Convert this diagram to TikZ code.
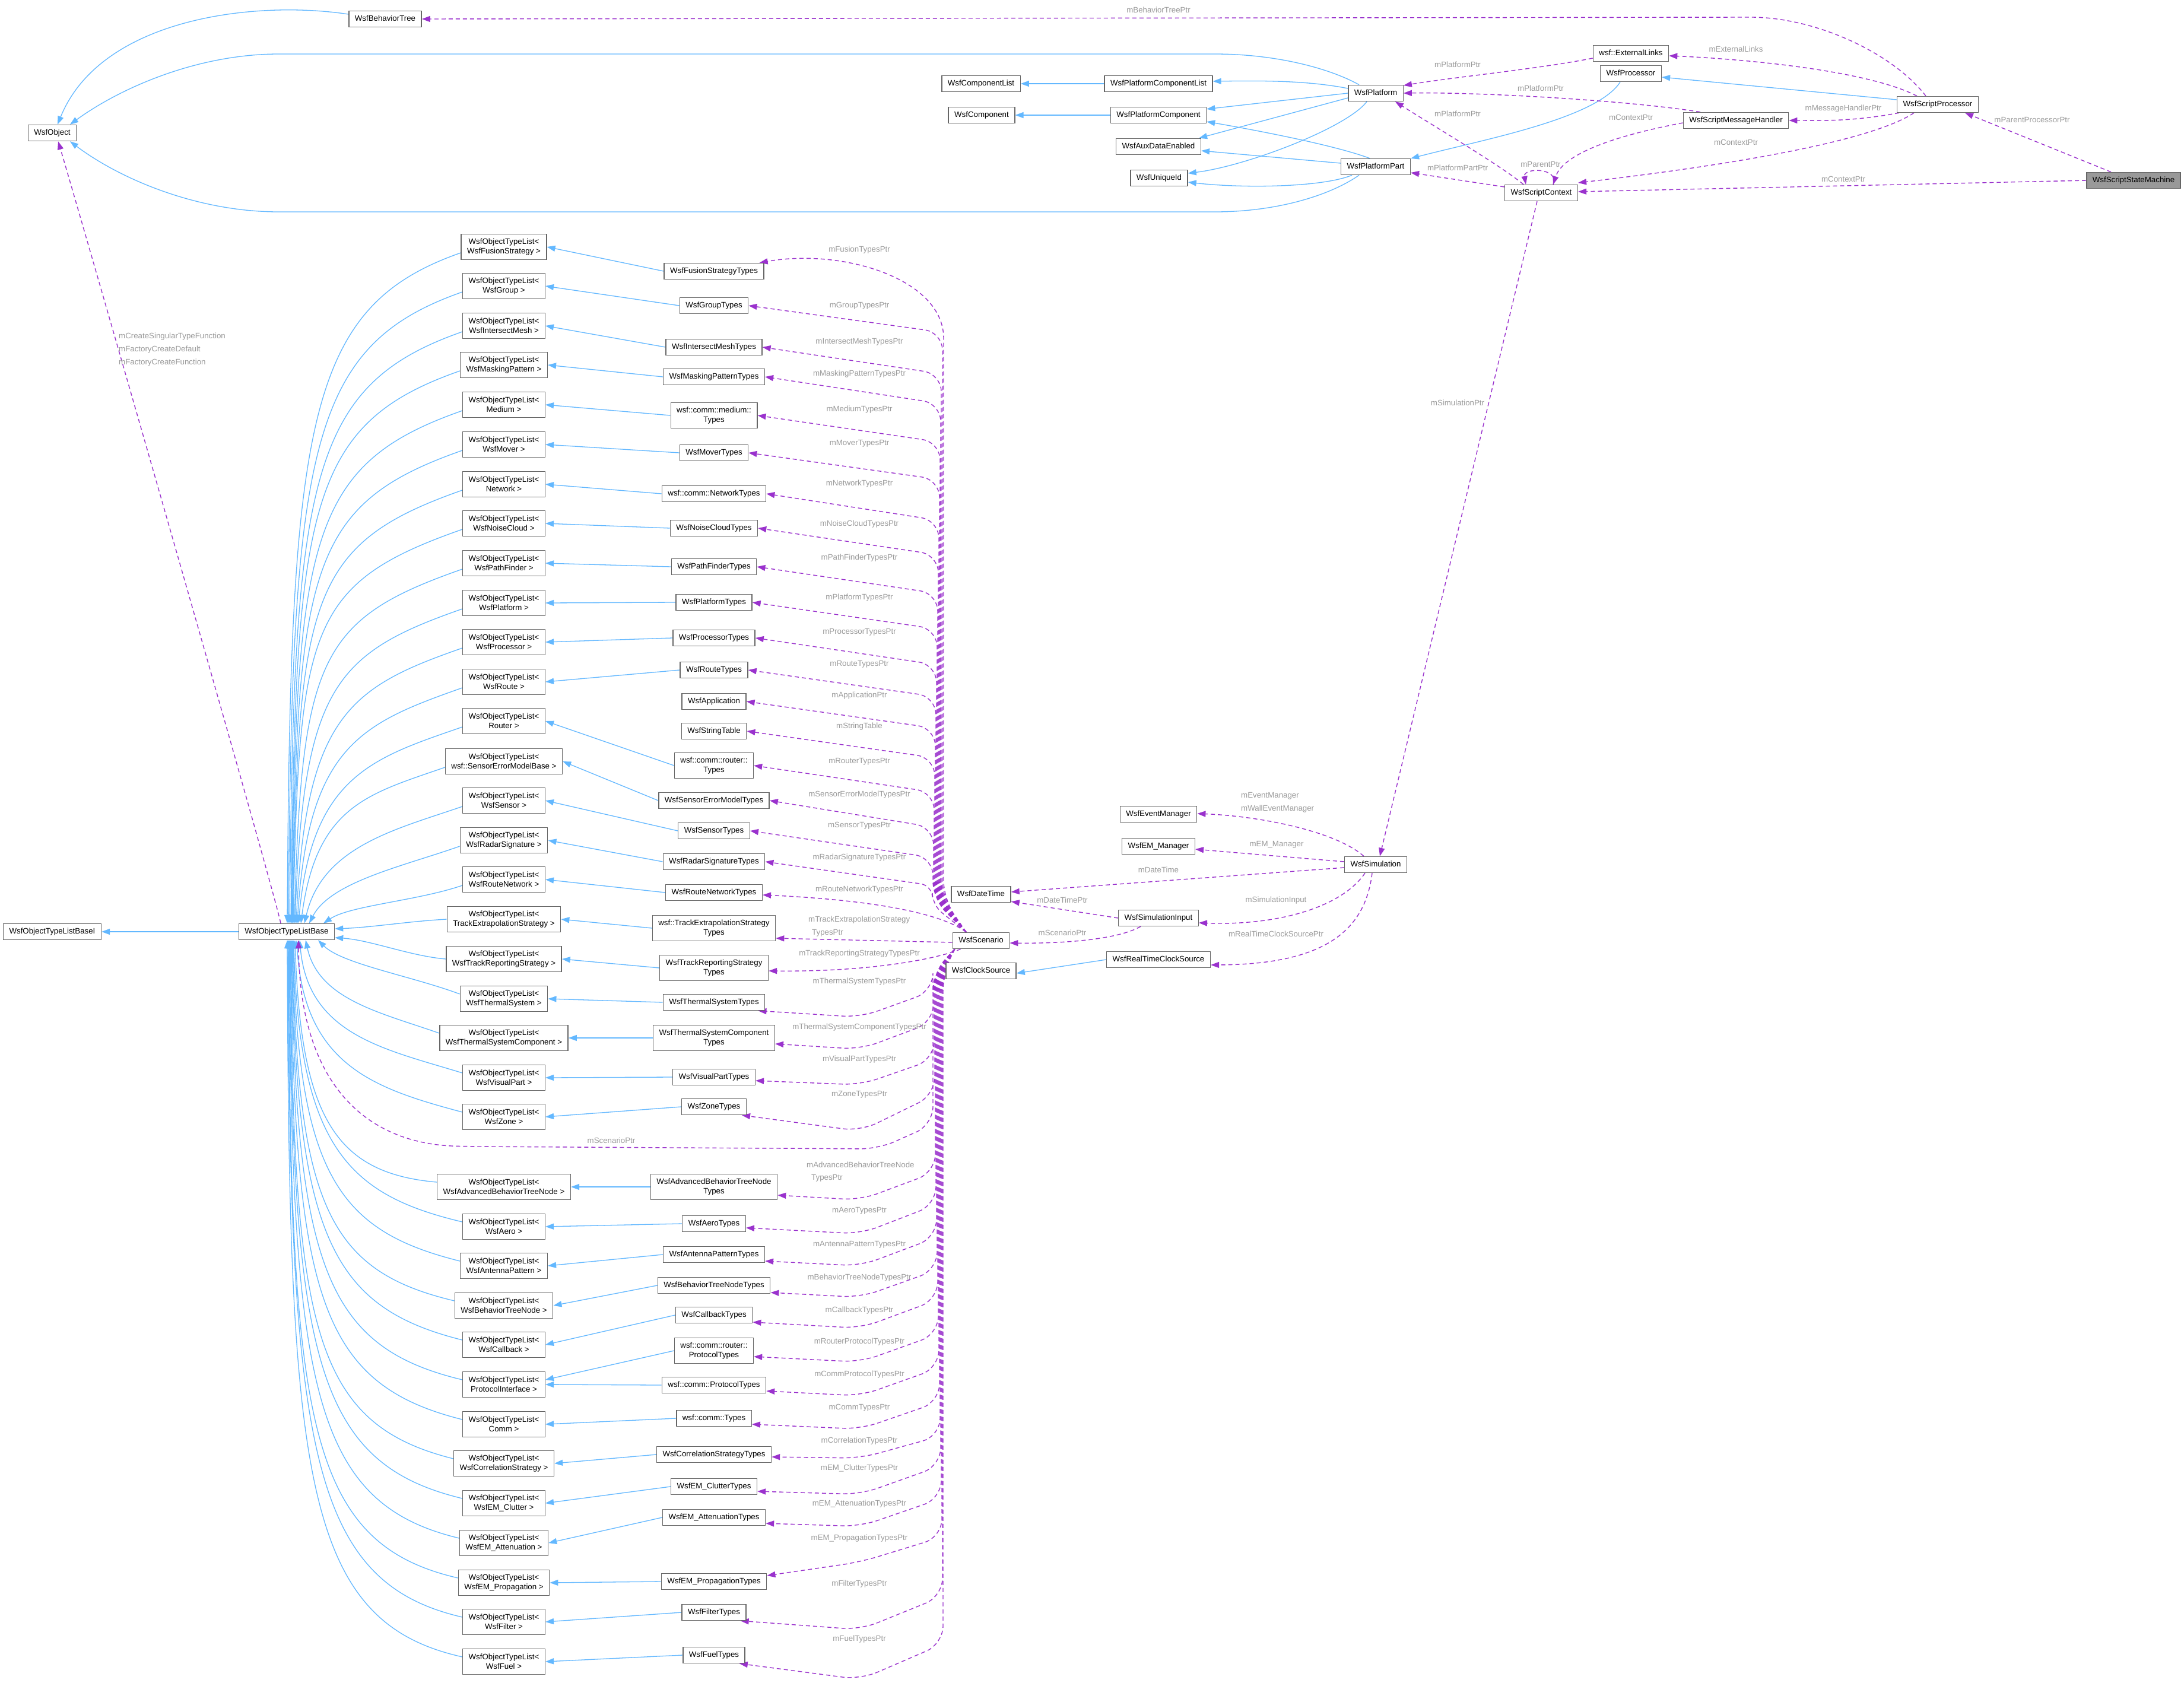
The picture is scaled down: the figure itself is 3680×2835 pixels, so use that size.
\documentclass[tikz,border=0pt]{standalone}
\usepackage{fontspec}
\setmainfont{Liberation Sans}
\usetikzlibrary{arrows.meta}
\definecolor{boxc}{HTML}{666666}
\definecolor{inhc}{HTML}{63B8FF}
\definecolor{depc}{HTML}{9A32CD}
\definecolor{lblc}{HTML}{9A9A9A}
\definecolor{ssmc}{HTML}{999999}
\pgfdeclarelayer{bg}
\pgfsetlayers{bg,main}
\begin{document}
\begin{tikzpicture}[x=1pt,y=-1pt,
  box/.style={draw=boxc, line width=1.4pt, fill=white, inner xsep=10pt, inner ysep=0pt, minimum height=27pt, text height=10pt, text depth=2.8pt, font=\fontsize{13.3}{16}\selectfont},
  box2/.style={draw=boxc, line width=1.4pt, fill=white, inner xsep=10pt, inner ysep=0pt, minimum height=43pt, align=center, font=\fontsize{13.3}{16}\selectfont},
  lbl/.style={text=lblc, inner sep=0pt, font=\fontsize{13.3}{16}\selectfont},
  inh/.style={draw=inhc, line width=1.3pt, -{Triangle[length=14pt,width=10pt]}},
  dep/.style={draw=depc, line width=1.4pt, dash pattern=on 7pt off 5pt, -{Triangle[length=14pt,width=10pt]}}]
\useasboundingbox (0,0) rectangle (3680,2835);
\begin{pgfonlayer}{bg}
\fill[white] (0,0) rectangle (3680,2835);
\end{pgfonlayer}

% ---------- top nodes ----------
\node[box] (obj) at (88,224) {WsfObject};
\node[box] (bt) at (649,32) {WsfBehaviorTree};
\node[box] (cl) at (1653,141) {WsfComponentList};
\node[box] (pcl) at (1952,141) {WsfPlatformComponentList};
\node[box] (plat) at (2318,157) {WsfPlatform};
\node[box] (comp) at (1654,194) {WsfComponent};
\node[box] (pc) at (1952,194) {WsfPlatformComponent};
\node[box] (aux) at (1952,247) {WsfAuxDataEnabled};
\node[box] (uid) at (1953,300) {WsfUniqueId};
\node[box] (pp) at (2318,281) {WsfPlatformPart};
\node[box] (el) at (2748,90) {wsf::ExternalLinks};
\node[box] (proc) at (2748,124) {WsfProcessor};
\node[box] (sp) at (3265,176) {WsfScriptProcessor};
\node[box] (smh) at (2925,203) {WsfScriptMessageHandler};
\node[box] (sc) at (2597,325) {WsfScriptContext};
\node[box, fill=ssmc] (ssm) at (3595,304) {WsfScriptStateMachine};

% ---------- middle nodes ----------
\node[box] (sim) at (2318,1457) {WsfSimulation};
\node[box] (evm) at (1952,1372) {WsfEventManager};
\node[box] (emm) at (1952,1426) {WsfEM\_Manager};
\node[box] (dt) at (1653,1507) {WsfDateTime};
\node[box] (si) at (1952,1547) {WsfSimulationInput};
\node[box] (scen) at (1653,1585) {WsfScenario};
\node[box] (cs) at (1653,1636) {WsfClockSource};
\node[box] (rtcs) at (1952,1617) {WsfRealTimeClockSource};
\node[box] (base) at (483,1570) {WsfObjectTypeListBase};
\node[box] (basei) at (88,1570) {WsfObjectTypeListBaseI};

% ---------- type list templates ----------
\foreach \nm/\yy/\txt in {tFus/416/WsfFusionStrategy, tGrp/482/WsfGroup, tIM/549/WsfIntersectMesh,
  tMP/615/WsfMaskingPattern, tMed/682/Medium, tMov/749/WsfMover, tNet/816/Network,
  tNC/882/WsfNoiseCloud, tPF/949/WsfPathFinder, tPlat/1016/WsfPlatform, tProc/1082/WsfProcessor,
  tRoute/1149/WsfRoute, tRouter/1215/Router, tSEM/1283/wsf::SensorErrorModelBase,
  tSens/1349/WsfSensor, tRadar/1416/WsfRadarSignature, tRN/1482/WsfRouteNetwork,
  tTE/1549/TrackExtrapolationStrategy, tTR/1616/WsfTrackReportingStrategy,
  tTS/1683/WsfThermalSystem, tTSC/1749/WsfThermalSystemComponent, tVP/1816/WsfVisualPart,
  tZone/1882/WsfZone, tABT/2000/WsfAdvancedBehaviorTreeNode, tAero/2067/WsfAero,
  tAnt/2133/WsfAntennaPattern, tBTN/2200/WsfBehaviorTreeNode, tCb/2266/WsfCallback,
  tPI/2333/ProtocolInterface, tComm/2400/Comm, tCorr/2466/WsfCorrelationStrategy,
  tEMC/2533/WsfEM\_Clutter, tEMA/2600/WsfEM\_Attenuation, tEMP/2667/WsfEM\_Propagation,
  tFilter/2733/WsfFilter, tFuel/2800/WsfFuel}
  \node[box2] (\nm) at (849,\yy) {WsfObjectTypeList<\\\txt{} >};

% ---------- types ----------
\foreach \nm/\yy/\txt in {fus/457/WsfFusionStrategyTypes, grp/515/WsfGroupTypes,
  im/585/WsfIntersectMeshTypes, mp/635/WsfMaskingPatternTypes, mov/763/WsfMoverTypes,
  net/832/wsf::comm::NetworkTypes, nc/890/WsfNoiseCloudTypes, pf/955/WsfPathFinderTypes,
  platy/1015/WsfPlatformTypes, procy/1075/WsfProcessorTypes, routey/1129/WsfRouteTypes,
  app/1182/WsfApplication, st/1232/WsfStringTable, sem/1349/WsfSensorErrorModelTypes,
  sens/1400/WsfSensorTypes, rad/1452/WsfRadarSignatureTypes, rn/1504/WsfRouteNetworkTypes,
  ts/1689/WsfThermalSystemTypes, vp/1815/WsfVisualPartTypes, zone/1865/WsfZoneTypes,
  aero/2062/WsfAeroTypes, ant/2114/WsfAntennaPatternTypes, btn/2166/WsfBehaviorTreeNodeTypes,
  cb/2216/WsfCallbackTypes, cp/2334/wsf::comm::ProtocolTypes, comm/2390/wsf::comm::Types,
  corr/2451/WsfCorrelationStrategyTypes, emc/2505/WsfEM\_ClutterTypes,
  ema/2557/WsfEM\_AttenuationTypes, emp/2665/WsfEM\_PropagationTypes,
  fil/2717/WsfFilterTypes, fuel/2789/WsfFuelTypes}
  \node[box] (\nm) at (1203,\yy) {\txt};
\node[box2] (med) at (1203,700) {wsf::comm::medium::\\Types};
\node[box2] (routery) at (1203,1290) {wsf::comm::router::\\Types};
\node[box2] (te) at (1203,1564) {wsf::TrackExtrapolationStrategy\\Types};
\node[box2] (tr) at (1203,1631) {WsfTrackReportingStrategy\\Types};
\node[box2] (tsc) at (1203,1749) {WsfThermalSystemComponent\\Types};
\node[box2] (abt) at (1203,2000) {WsfAdvancedBehaviorTreeNode\\Types};
\node[box2] (rp) at (1203,2276) {wsf::comm::router::\\ProtocolTypes};

% ---------- labels ----------
\node[lbl] (l1) at (1952,17) {mBehaviorTreePtr};
\node[lbl] (l2) at (2925,83) {mExternalLinks};
\node[lbl] (l3) at (2456,109) {mPlatformPtr};
\node[lbl] (l4) at (2596,149) {mPlatformPtr};
\node[lbl] (l5) at (2456,192) {mPlatformPtr};
\node[lbl] (l6) at (2456,283) {mPlatformPartPtr};
\node[lbl] (l7) at (2596,277) {mParentPtr};
\node[lbl] (l8) at (2748,198) {mContextPtr};
\node[lbl] (l9) at (3106,183) {mMessageHandlerPtr};
\node[lbl] (l10) at (2925,240) {mContextPtr};
\node[lbl] (l11) at (3424,202) {mParentProcessorPtr};
\node[lbl] (l12) at (3106,302) {mContextPtr};
\node[lbl] (l13) at (2456,679) {mSimulationPtr};
\node[lbl, anchor=west] (l14) at (2091,1341) {mEventManager};
\node[lbl, anchor=west] (l15) at (2091,1363) {mWallEventManager};
\node[lbl] (l16) at (2151,1423) {mEM\_Manager};
\node[lbl] (l17) at (1952,1466) {mDateTime};
\node[lbl] (l18) at (1790,1517) {mDateTimePtr};
\node[lbl] (l19) at (2150,1517) {mSimulationInput};
\node[lbl] (l20) at (1790,1572) {mScenarioPtr};
\node[lbl] (l21) at (2150,1574) {mRealTimeClockSourcePtr};
\node[lbl] (l22) at (1030,1922) {mScenarioPtr};
\node[lbl, anchor=west] (l23) at (200,567) {mCreateSingularTypeFunction};
\node[lbl, anchor=west] (l24) at (200,589) {mFactoryCreateDefault};
\node[lbl, anchor=west] (l25) at (200,611) {mFactoryCreateFunction};
\node[lbl, anchor=west, align=left, font=\fontsize{13.3}{22}\selectfont] (l26) at (1362,1561) {mTrackExtrapolationStrategy\\\hspace*{6pt}TypesPtr};
\node[lbl, anchor=west, align=left, font=\fontsize{13.3}{21}\selectfont] (l27) at (1359,1975) {mAdvancedBehaviorTreeNode\\\hspace*{8pt}TypesPtr};
\foreach \txt/\ly [count=\i] in {mFusionTypesPtr/421, mGroupTypesPtr/515, mIntersectMeshTypesPtr/576,
  mMaskingPatternTypesPtr/630, mMediumTypesPtr/690, mMoverTypesPtr/747, mNetworkTypesPtr/815,
  mNoiseCloudTypesPtr/883, mPathFinderTypesPtr/940, mPlatformTypesPtr/1007,
  mProcessorTypesPtr/1065, mRouteTypesPtr/1119, mApplicationPtr/1172, mStringTable/1224,
  mRouterTypesPtr/1283, mSensorErrorModelTypesPtr/1339, mSensorTypesPtr/1391,
  mRadarSignatureTypesPtr/1445, mRouteNetworkTypesPtr/1499, mTrackReportingStrategyTypesPtr/1607,
  mThermalSystemTypesPtr/1654, mThermalSystemComponentTypesPtr/1731, mVisualPartTypesPtr/1785,
  mZoneTypesPtr/1844, mAeroTypesPtr/2040, mAntennaPatternTypesPtr/2097,
  mBehaviorTreeNodeTypesPtr/2153, mCallbackTypesPtr/2208, mRouterProtocolTypesPtr/2261,
  mCommProtocolTypesPtr/2316, mCommTypesPtr/2372, mCorrelationTypesPtr/2428,
  mEM\_ClutterTypesPtr/2474, mEM\_AttenuationTypesPtr/2534, mEM\_PropagationTypesPtr/2592,
  mFilterTypesPtr/2669, mFuelTypesPtr/2762}
  \node[lbl] (sl\i) at (1448,\ly) {\txt};

% ---------- edges ----------
\begin{pgfonlayer}{bg}
% inheritance, top
\draw[inh] ([yshift=8pt]bt.west) .. controls (430,0) and (170,30) .. ([xshift=9pt]obj.north);
\draw[inh] ([xshift=-28pt]plat.north) .. controls (2240,115) and (2150,91) .. (2047,91) -- (470,91) .. controls (330,91) and (200,150) .. ([xshift=30pt]obj.north);
\draw[inh] ([xshift=-28pt]pp.south) .. controls (2240,330) and (2150,357) .. (2047,357) -- (470,357) .. controls (330,357) and (200,300) .. ([xshift=30pt]obj.south);
\draw[inh] (pcl.west) -- (cl.east);
\draw[inh] (pc.west) -- (comp.east);
\draw[inh] ([yshift=8pt]plat.west) .. controls (2200,135) and (2120,136) .. ([yshift=4pt]pcl.east);
\draw[inh] (plat.west) -- ([yshift=-4pt]pc.north east);
\draw[inh] ([yshift=-8pt]plat.west) -- ([xshift=-4pt]aux.north east);
\draw[inh] ([xshift=-15pt]plat.south) .. controls (2270,215) and (2100,280) .. ([yshift=8pt]uid.east);
\draw[inh] ([xshift=-10pt]pp.north) .. controls (2250,245) and (2120,220) .. ([yshift=-11pt]pc.east);
\draw[inh] ([yshift=6pt]pp.west) -- ([yshift=-7pt]aux.east);
\draw[inh] ([xshift=-40pt]pp.south) .. controls (2230,315) and (2100,318) .. ([yshift=-7pt]uid.east);
\draw[inh] ([xshift=-18pt]proc.south) .. controls (2690,200) and (2500,235) .. ([yshift=14pt]pp.east);
\draw[inh] ([yshift=8pt]sp.west) -- ([yshift=-6pt]proc.east);
% dependencies, top
\draw[dep] ([xshift=-20pt]sp.north) .. controls (3190,90) and (3060,29) .. (2950,29) -- (bt.east);
\draw[dep] ([xshift=-35pt]sp.north) .. controls (3150,120) and (2950,100) .. ([yshift=-4pt]el.east);
\draw[dep] ([yshift=-8pt]el.west) .. controls (2600,115) and (2450,130) .. ([yshift=13pt]plat.east);
\draw[dep] ([xshift=-60pt]smh.north) .. controls (2750,170) and (2500,155) .. (plat.east);
\draw[dep] ([xshift=-30pt]sc.north) .. controls (2530,280) and (2420,215) .. ([xshift=-14pt]plat.south east);
\draw[dep] ([yshift=10pt]sc.west) -- ([yshift=-10pt]pp.east);
\draw[dep] ([xshift=20pt]sc.north) .. controls (2628,282) and (2566,282) .. ([xshift=-26pt]sc.north);
\draw[dep] ([yshift=-4pt]smh.west) .. controls (2740,225) and (2635,255) .. ([xshift=20pt]sc.north);
\draw[dep] ([xshift=4pt]sp.south west) .. controls (3120,205) and (3070,203) .. (smh.east);
\draw[dep] ([xshift=-40pt]sp.south) .. controls (3150,240) and (2900,280) .. ([yshift=17pt]sc.east);
\draw[dep] ([xshift=-38pt]ssm.north) -- ([xshift=46pt]sp.south);
\draw[dep] (ssm.west) -- ([yshift=2pt]sc.east);
\draw[dep] ([xshift=-7pt]sc.south) -- ([xshift=7pt]sim.north);
% simulation
\draw[dep] ([xshift=-20pt]sim.north) .. controls (2250,1400) and (2120,1375) .. ([yshift=1pt]evm.east);
\draw[dep] ([yshift=5pt]sim.west) -- ([yshift=-5pt]emm.east);
\draw[dep] ([yshift=-5pt]sim.west) -- ([yshift=4pt]dt.east);
\draw[dep] ([xshift=-18pt]sim.south) .. controls (2260,1530) and (2150,1560) .. ([yshift=-8pt]si.east);
\draw[dep] ([xshift=-6pt]sim.south) .. controls (2300,1570) and (2230,1625) .. ([yshift=-9pt]rtcs.east);
\draw[dep] (si.west) -- ([yshift=2pt]dt.south east);
\draw[dep] ([xshift=-30pt]si.south) .. controls (1880,1585) and (1780,1590) .. ([yshift=-4pt]scen.east);
\draw[inh] (rtcs.west) -- ([yshift=-4pt]cs.east);
% base
\draw[inh] (base.west) -- (basei.east);
\draw[dep] ([xshift=-10pt]base.north) .. controls +(-12,-60) and +(30,100) .. ([xshift=10pt]obj.south);
\foreach \nm/\ax/\ay/\cx/\cy/\ex in {tFus/-260/91/5/-848/1, tGrp/-260/91/6/-799/3, tIM/-260/91/7/-749/5,
  tMP/-260/91/8/-699/7, tMed/-260/91/8/-649/8, tMov/-260/91/9/-599/9, tNet/-260/91/10/-548/10,
  tNC/-260/91/10/-499/11, tPF/-240/84/12/-449/13, tPlat/-215/75/14/-398/14, tProc/-190/66/16/-349/16,
  tRoute/-170/60/18/-299/18, tRouter/-150/52/22/-249/20, tSEM/-130/45/26/-198/24,
  tSens/-110/38/30/-130/30, tRadar/-93/33/36/-70/38, tRN/-76/26/45/-30/62}
  \draw[inh] ([yshift=-10pt]\nm.west) .. controls +(\ax,\ay) and +(\cx,\cy) .. ([xshift=\ex pt]base.north);
\draw[inh] (tTE.west) .. controls +(-60,3) and +(60,-2) .. ([yshift=5pt]base.east);
\draw[inh] (tTR.west) .. controls +(-60,-5) and +(60,4) .. ([yshift=-10pt]base.east);
\foreach \nm/\ax/\ay/\cx/\cy/\ex in {tTS/-80/-30/40/40/53, tTSC/-100/-35/22/100/32, tVP/-130/-40/14/160/22,
  tZone/-150/-40/12/210/17, tABT/-170/-15/10/300/14, tAero/-190/-45/9/350/12, tAnt/-200/-50/8/400/11,
  tBTN/-210/-50/8/450/10, tCb/-220/-55/7/500/9, tPI/-230/-55/7/550/8, tComm/-240/-60/6/600/7,
  tCorr/-240/-60/6/650/6, tEMC/-250/-60/5/700/5, tEMA/-250/-60/5/750/4, tEMP/-260/-60/4/800/3,
  tFilter/-260/-60/4/850/2, tFuel/-270/-60/3/900/1}
  \draw[inh] ([yshift=8pt]\nm.west) .. controls +(\ax,\ay) and +(\cx,\cy) .. ([xshift=\ex pt]base.south);
% types -> templates
\foreach \a/\b in {fus/tFus, grp/tGrp, im/tIM, mp/tMP, med/tMed, mov/tMov, net/tNet, nc/tNC, pf/tPF,
  platy/tPlat, procy/tProc, routey/tRoute, routery/tRouter, sem/tSEM, sens/tSens, rad/tRadar, rn/tRN,
  te/tTE, tr/tTR, ts/tTS, tsc/tTSC, vp/tVP, zone/tZone, abt/tABT, aero/tAero, ant/tAnt, btn/tBTN,
  cb/tCb, cp/tPI, comm/tComm, corr/tCorr, emc/tEMC, ema/tEMA, emp/tEMP, fil/tFilter, fuel/tFuel}
  \draw[inh] (\a.west) -- (\b.east);
\draw[inh] (rp.west) -- ([yshift=8pt]tPI.east);
% scenario -> types (upper)
\draw[dep, rounded corners=30pt] ([xshift=-25pt]scen.north) -- (1590,1515) -- (1590,600) .. controls (1590,470) and (1420,418) .. ([xshift=-8pt]fus.north east);
\foreach \nm/\bx/\ty in {grp/1588/515, im/1586/585, mp/1585/635, med/1584/700, mov/1583/763,
  net/1582/832, nc/1581/890, pf/1580/955, platy/1579/1015, procy/1578/1075, routey/1577/1129,
  app/1576/1182, st/1575/1232, routery/1574/1290, sem/1573/1349, sens/1572/1400}
  \draw[dep, rounded corners=30pt] ([xshift=-25pt]scen.north) -- (\bx,1515) -- (\bx,\ty+45) -- (\nm.east);
\draw[dep, rounded corners=20pt] ([xshift=-25pt]scen.north) -- (1571,1525) -- (1571,1492) -- (rad.east);
\draw[dep] ([xshift=-25pt]scen.north) .. controls (1595,1545) and (1500,1518) .. ([yshift=-4pt]rn.east);
\draw[dep] ([yshift=-3pt]scen.west) -- ([yshift=-17pt]te.east);
\draw[dep] ([xshift=14pt]scen.south west) .. controls (1590,1612) and (1480,1638) .. ([yshift=-5pt]tr.east);
% scenario -> types (lower)
\foreach \nm/\an/\xs/\ys/\bx/\ya/\yb in {ts/south east/-12/0/1572/1670/1714,
  tsc/east/0/-10/1573/1722/1768, vp/east/0/-6/1574/1785/1828, zone/south east/-8/0/1575/1845/1906,
  abt/east/0/-14/1576/1975/2022, aero/east/0/-7/1577/2030/2079, ant/east/0/-11/1578/2085/2133,
  btn/east/0/-12/1579/2140/2186, cb/east/0/-12/1580/2190/2238, rp/east/0/-10/1581/2248/2295,
  cp/east/0/-10/1582/2305/2352, comm/east/0/-10/1583/2362/2408, corr/east/0/-4/1584/2420/2457,
  emc/east/0/-8/1585/2470/2518, ema/east/0/-10/1586/2525/2572, emp/east/0/10/1587/2590/2632,
  fil/south east/-10/0/1588/2690/2746, fuel/south east/-10/0/1589/2770/2830}
  \draw[dep, rounded corners=30pt] ([xshift=4pt]scen.south west) -- (\bx,1640) -- (\bx,\ya) -- (1450,\yb) -- ([xshift=\xs pt,yshift=\ys pt]\nm.\an);
\draw[dep, rounded corners=30pt] ([xshift=4pt]scen.south west) -- (1572,1640) -- (1572,1895) -- (1480,1936) -- (800,1932) .. controls (620,1928) and (505,1830) .. ([xshift=20pt]base.south);
\end{pgfonlayer}
\end{tikzpicture}
\end{document}
